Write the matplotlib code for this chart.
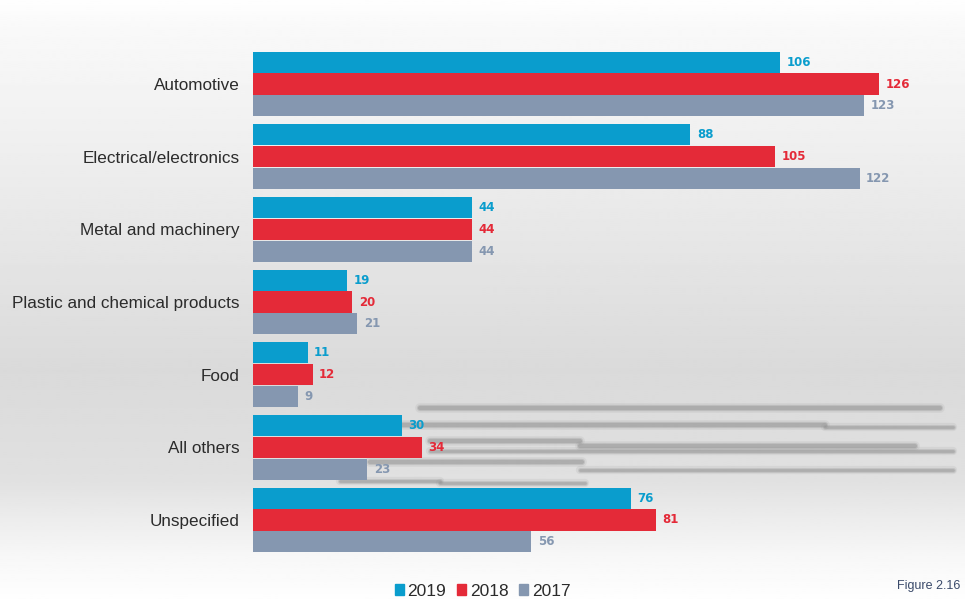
import numpy as np
import matplotlib
matplotlib.use('Agg')
import matplotlib.pyplot as plt
from matplotlib.patches import Rectangle
from matplotlib.lines import Line2D

plt.rcParams['font.family'] = ['Liberation Sans', 'DejaVu Sans']

categories = ['Automotive', 'Electrical/electronics', 'Metal and machinery',
              'Plastic and chemical products', 'Food', 'All others', 'Unspecified']
years = ['2019', '2018', '2017']
vals_2019 = [106, 88, 44, 19, 11, 30, 76]
vals_2018 = [126, 105, 44, 20, 12, 34, 81]
vals_2017 = [123, 122, 44, 21, 9, 23, 56]

colors = ['#0a9dcd', '#e42a38', '#8597b0']

fig = plt.figure(figsize=(9.65, 5.99), dpi=100)

# background gradient (white top, grey middle, white bottom)
bg = fig.add_axes([0, 0, 1, 1], zorder=-10)
rows = np.linspace(0, 1, 300)
shade = np.interp(rows, [0, 0.05, 0.3, 0.62, 0.8, 0.93, 1.0],
                  [0.995, 0.975, 0.925, 0.855, 0.88, 0.97, 0.995])
bg.imshow(shade[:, None], cmap='gray', vmin=0, vmax=1, aspect='auto',
          extent=[0, 1, 0, 1], origin='upper')

# blurry grey streaks in the lower right of the original (behind the bars)
streaks = [(408, 420, 940, 3), (425, 380, 825, 3), (427, 825, 953, 2),
           (441, 430, 580, 3), (446, 580, 915, 3), (451, 430, 953, 2),
           (462, 370, 582, 3), (470, 580, 953, 2), (481, 340, 440, 2),
           (483, 440, 585, 2)]
for yy, x0, x1, w in streaks:
    for lw, a in [(w + 4, 0.12), (w + 1.5, 0.25), (w, 0.35)]:
        bg.add_line(Line2D([x0 / 965, x1 / 965], [1 - yy / 599, 1 - yy / 599],
                           color='#8a8a8a', lw=lw, alpha=a,
                           solid_capstyle='round'))
bg.set_xlim(0, 1)
bg.set_ylim(0, 1)
bg.axis('off')

ax = fig.add_axes([253 / 965, 1 - 556.3 / 599, 696 / 965, (556.3 - 47.7) / 599])
ax.patch.set_alpha(0)

y = np.arange(len(categories))
h = 0.29
offsets = [-0.30, 0.0, 0.30]
series = [vals_2019, vals_2018, vals_2017]
for s, vals in enumerate(series):
    ax.barh(y + offsets[s], vals, height=h, color=colors[s], label=years[s], zorder=3)
    for i, v in enumerate(vals):
        ax.text(v + 1.3, y[i] + offsets[s], str(v), va='center', ha='left',
                fontsize=8.5, fontweight='bold', color=colors[s], zorder=4,
                family='DejaVu Sans')

ax.set_xlim(0, 140)
ax.set_ylim(6.5, -0.5)
ax.set_yticks(y)
ax.set_yticklabels(categories, fontsize=12.3, color='#2b2b2b')
ax.tick_params(axis='y', length=0, pad=9.5)
ax.set_xticks([])
for sp in ax.spines.values():
    sp.set_visible(False)

# legend
handles = [Rectangle((0, 0), 1, 1, color=c) for c in colors]
fig.legend(handles, years, loc='center', bbox_to_anchor=(0.5, 1 - 591 / 599),
           ncol=3, frameon=False, fontsize=12.5, handlelength=0.55, handleheight=0.55,
           handletextpad=0.2, columnspacing=0.6, labelcolor='#2b2b2b')

fig.text(897 / 965, 1 - 586 / 599, 'Figure 2.16', fontsize=9, color='#3a4a6a',
         ha='left', va='center')

fig.savefig('out.png', dpi=100)
